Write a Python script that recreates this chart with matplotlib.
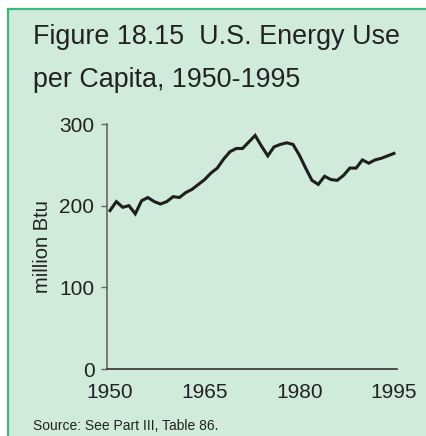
import numpy as np
import matplotlib.pyplot as plt
from matplotlib.lines import Line2D

plt.rcParams['font.family'] = ['Liberation Sans', 'DejaVu Sans']

# U.S. energy use per capita, million Btu
years = np.arange(1950, 1996)
btu = np.array([194, 205, 198, 200, 190, 206, 210, 205, 202, 205,
                211, 210, 216, 220, 226, 232, 240, 246, 257, 266,
                270, 270, 278, 286, 273, 261, 272, 275, 277, 275,
                262, 246, 231, 226, 236, 232, 231, 237, 246, 246,
                256, 252, 256, 258, 261, 264])
xticks = [1950, 1965, 1980, 1995]
yticks = [0, 100, 200, 300]

W, H = 427, 436
bg = '#d0eadc'
txt = '#222222'
border = '#3cb878'

fig = plt.figure(figsize=(W / 100, H / 100), dpi=100)
fig.patch.set_facecolor('white')

# green panel with border on top and left
fig.patches.append(plt.Rectangle((8 / W, 0), 1, 1 - 9 / H, transform=fig.transFigure,
                                 facecolor=bg, edgecolor='none', zorder=-5))
fig.lines.append(Line2D([8 / W, 1], [1 - 9 / H, 1 - 9 / H], transform=fig.transFigure,
                        color=border, lw=1.6, zorder=-4))
fig.lines.append(Line2D([8 / W, 8 / W], [0, 1 - 9 / H], transform=fig.transFigure,
                        color=border, lw=1.6, zorder=-4))

fig.text(33 / W, 1 - 44 / H, 'Figure 18.15  U.S. Energy Use', fontsize=19.4, color=txt)
fig.text(33 / W, 1 - 87 / H, 'per Capita, 1950-1995', fontsize=19.4, color=txt)
fig.text(33 / W, 1 - 430 / H, 'Source: See Part III, Table 86.', fontsize=10, color=txt)

ax = fig.add_axes([107 / W, 1 - 369 / H, 290 / W, 245 / H])
ax.set_zorder(2)
ax.set_facecolor('none')
ax.plot(years, btu, color='#1e1e1e', lw=2.2, solid_joinstyle='miter')
ax.set_xlim(1949.52, 1995.48)
ax.set_ylim(0, 300)
ax.set_xticks(xticks)
ax.set_yticks(yticks)
for s in ['top', 'right']:
    ax.spines[s].set_visible(False)
ax.spines['left'].set_color('#666666')
ax.spines['bottom'].set_color('#333333')
ax.spines['left'].set_linewidth(1.2)
ax.spines['bottom'].set_linewidth(1.2)
ax.tick_params(axis='x', length=0, pad=10, labelsize=15, labelcolor=txt)
ax.tick_params(axis='y', length=4, width=1, color='#666666', pad=5, labelsize=15,
               labelcolor=txt)
ax.set_ylabel('million Btu', fontsize=14.5, color=txt)
ax.yaxis.set_label_coords(-55 / 290, 0.5)

fig.savefig('out.png', dpi=100, facecolor=fig.get_facecolor())
